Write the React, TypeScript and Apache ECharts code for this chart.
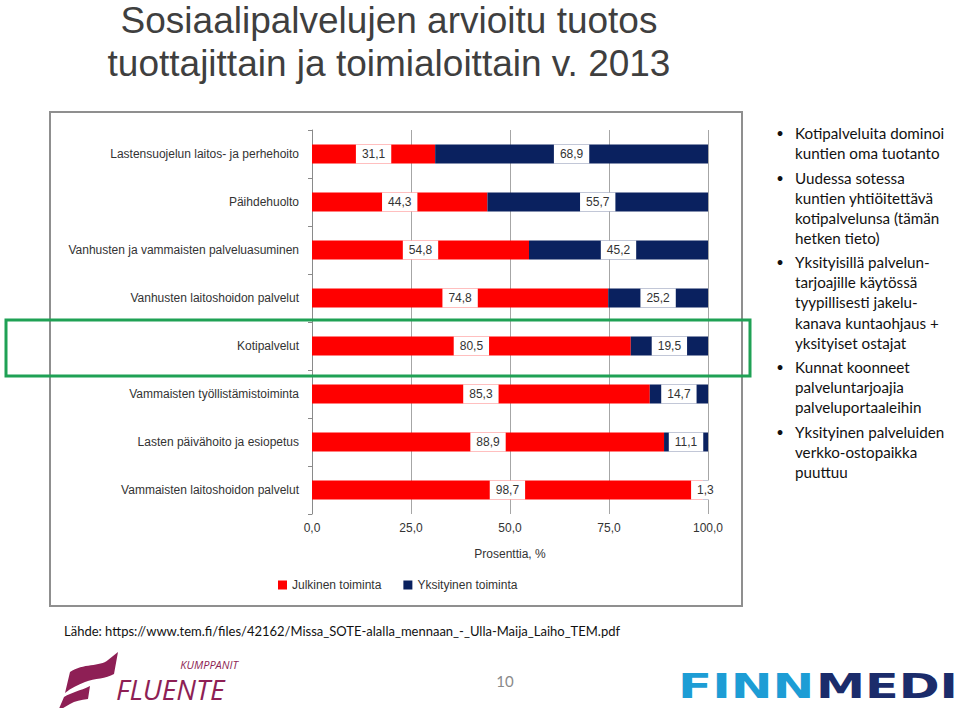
import React, { useEffect, useRef } from 'react';
import * as echarts from 'echarts';

const categories = [
  'Lastensuojelun laitos- ja perhehoito',
  'Päihdehuolto',
  'Vanhusten ja vammaisten palveluasuminen',
  'Vanhusten laitoshoidon palvelut',
  'Kotipalvelut',
  'Vammaisten työllistämistoiminta',
  'Lasten päivähoito ja esiopetus',
  'Vammaisten laitoshoidon palvelut',
];
const publicValues = [31.1, 44.3, 54.8, 74.8, 80.5, 85.3, 88.9, 98.7];
const privateValues = [68.9, 55.7, 45.2, 25.2, 19.5, 14.7, 11.1, 1.3];
const seriesNames = ['Julkinen toiminta', 'Yksityinen toiminta'];
const axisName = 'Prosenttia, %';
const titleLines = ['Sosiaalipalvelujen arvioitu tuotos', 'tuottajittain ja toimialoittain v. 2013'];
const bullets = [
  ['Kotipalveluita dominoi', 'kuntien oma tuotanto'],
  ['Uudessa sotessa', 'kuntien yhtiöitettävä', 'kotipalvelunsa (tämän', 'hetken tieto)'],
  ['Yksityisillä palvelun-', 'tarjoajille käytössä', 'tyypillisesti jakelu-', 'kanava kuntaohjaus +', 'yksityiset ostajat'],
  ['Kunnat koonneet', 'palveluntarjoajia', 'palveluportaaleihin'],
  ['Yksityinen palveluiden', 'verkko-ostopaikka', 'puuttuu'],
];
const sourceText = 'Lähde: https://www.tem.fi/files/42162/Missa_SOTE-alalla_mennaan_-_Ulla-Maija_Laiho_TEM.pdf';
const pageNumber = '10';

const flagPath =
  'M20 27 C33 18 50 22 58 15 L68 7 L64 29 C56 34 45 33 35 37 C28 40 21 43 15 48 Z ' +
  'M14 52 C22 47 30 46 40 41 L38 54 C31 55 25 56 20 59 L8 66 Z';
echarts.graphic.registerShape('fluenteFlag', echarts.graphic.extendPath(flagPath, {}) as any);

const fmt = (v: number) => v.toFixed(1).replace('.', ',');

const RED = '#ff0000';
const NAVY = '#0a215f';
const SANS = '"Liberation Sans", Arial, sans-serif';
const BODY = 'Lato, "Open Sans", sans-serif';

export default function App() {
  const ref = useRef<HTMLDivElement>(null);
  useEffect(() => {
    if (!ref.current) return;
    const chart = echarts.init(ref.current, undefined, { renderer: 'svg' });

    const graphics: any[] = [];
    graphics.push({
      type: 'rect', z: -10,
      shape: { x: 50, y: 112, width: 692, height: 494 },
      style: { fill: 'none', stroke: '#8f8f8f', lineWidth: 2 },
    });
    titleLines.forEach((t, i) => {
      graphics.push({
        type: 'text', x: 389, y: 20.5 + i * 43,
        style: { text: t, font: `37px ${SANS}`, lineHeight: 34, fill: '#3f3f3f', textAlign: 'center', textVerticalAlign: 'middle' },
      });
    });
    let y = 133;
    const lh = 20.1;
    bullets.forEach((lines) => {
      graphics.push({
        type: 'text', x: 780, y,
        style: { text: '•', font: `13px ${BODY}`, fill: '#111', textAlign: 'center', textVerticalAlign: 'middle' },
      });
      lines.forEach((ln) => {
        graphics.push({
          type: 'text', x: 795, y,
          style: { text: ln, font: `15.2px ${BODY}`, fill: '#111', textAlign: 'left', textVerticalAlign: 'middle' },
        });
        y += lh;
      });
      y += 4.3;
    });
    graphics.push({
      type: 'text', x: 64, y: 631,
      style: { text: sourceText, font: `13px ${BODY}`, fill: '#111', textAlign: 'left', textVerticalAlign: 'middle' },
    });
    graphics.push({
      type: 'text', x: 505, y: 681,
      style: { text: pageNumber, font: `15px ${BODY}`, fill: '#8a8a8a', textAlign: 'center', textVerticalAlign: 'middle' },
    });
    graphics.push({
      type: 'fluenteFlag', x: 50, y: 645,
      style: { fill: '#8e1f55' },
    });
    graphics.push({
      type: 'text', x: 238, y: 664,
      style: { text: 'KUMPPANIT', font: `italic 11px "Open Sans", sans-serif`, lineHeight: 10, fill: '#8e1f55', textAlign: 'right', textVerticalAlign: 'middle' },
    });
    graphics.push({
      type: 'text', x: 116, y: 689,
      style: { text: 'FLUENTE', font: `italic 28px "Open Sans", sans-serif`, lineHeight: 22, fill: '#8e1f55', textAlign: 'left', textVerticalAlign: 'middle' },
    });
    graphics.push({
      type: 'text', x: 678, y: 686, scaleX: 1.47,
      style: { text: 'FINN', font: `bold 34px "DejaVu Sans", sans-serif`, fill: '#1d9dd5', textAlign: 'left', textVerticalAlign: 'middle' },
    });
    graphics.push({
      type: 'text', x: 816, y: 686, scaleX: 1.45,
      style: { text: 'MEDI', font: `bold 34px "DejaVu Sans", sans-serif`, fill: '#1b2c6b', textAlign: 'left', textVerticalAlign: 'middle' },
    });
    graphics.push({
      type: 'rect', z: 100,
      shape: { x: 6, y: 320, width: 744, height: 56 },
      style: { fill: 'none', stroke: '#1fa155', lineWidth: 3 },
    });

    const labelOpt = {
      show: true,
      position: 'inside',
      formatter: (p: any) => fmt(p.value),
      backgroundColor: '#ffffff',
      color: '#333',
      fontSize: 12,
      fontFamily: SANS,
      lineHeight: 12,
      padding: [4, 6, 3, 6],
    };

    chart.setOption({
      animation: false,
      backgroundColor: '#ffffff',
      textStyle: { fontFamily: SANS },
      grid: { left: 312, right: 252, top: 130, bottom: 194, containLabel: false },
      legend: {
        data: seriesNames,
        left: 278, top: 579, padding: 0,
        itemWidth: 9, itemHeight: 9, itemGap: 22, icon: 'rect',
        textStyle: { fontSize: 12, color: '#333', fontFamily: SANS },
      },
      xAxis: {
        type: 'value', min: 0, max: 100, interval: 25,
        axisLine: { show: false }, axisTick: { show: false },
        splitLine: { show: true, lineStyle: { color: '#a6a6a6', width: 1 } },
        axisLabel: { formatter: (v: number) => fmt(v), fontSize: 12, color: '#333', margin: 8 },
        name: axisName, nameLocation: 'middle', nameGap: 34,
        nameTextStyle: { fontSize: 12, color: '#333' },
      },
      yAxis: {
        type: 'category', data: categories, inverse: true,
        axisLine: { show: true, lineStyle: { color: '#8a8a8a' } },
        axisTick: { show: true, length: 4, lineStyle: { color: '#8a8a8a' } },
        axisLabel: { fontSize: 12, color: '#333', margin: 13 },
      },
      series: [
        {
          name: seriesNames[0], type: 'bar', stack: 'total', barWidth: 19,
          itemStyle: { color: RED }, label: labelOpt, data: publicValues,
        },
        {
          name: seriesNames[1], type: 'bar', stack: 'total', barWidth: 19,
          itemStyle: { color: NAVY }, label: labelOpt, data: privateValues,
        },
      ],
      graphic: graphics,
    });
    return () => chart.dispose();
  }, []);
  return <div ref={ref} style={{ position: 'fixed', left: 0, top: 0, width: 960, height: 708 }} />;
}
